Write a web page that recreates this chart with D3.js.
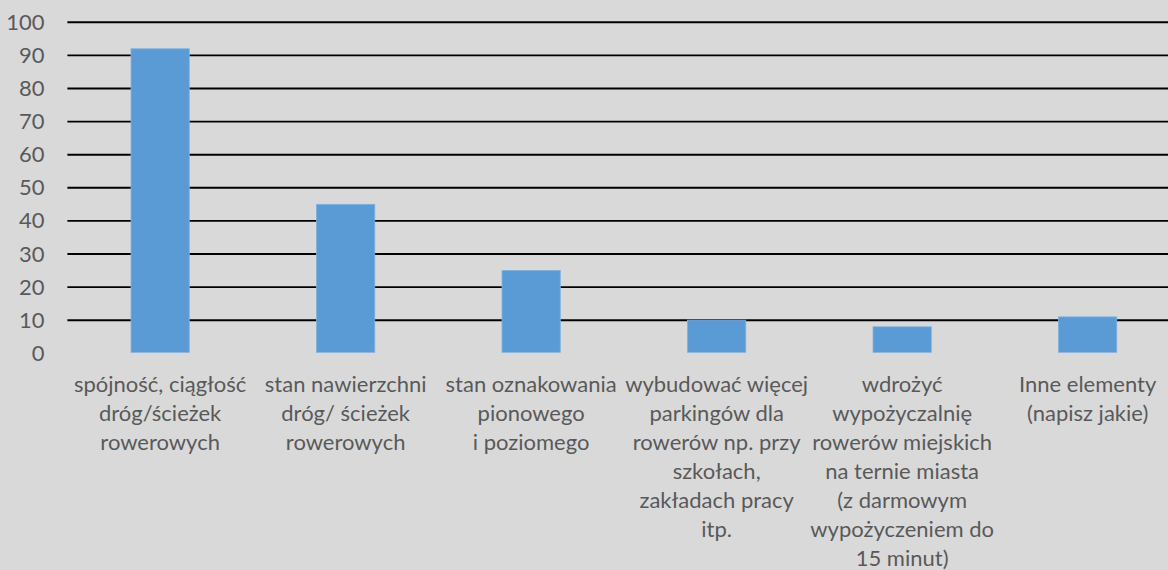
<!DOCTYPE html>
<html>
<head>
<meta charset="utf-8">
<script src="https://cdn.jsdelivr.net/npm/d3@7"></script>
<style>
  html, body { margin: 0; padding: 0; background: #d9d9d9; }
  svg { display: block; }
  text { font-family: Lato, "Open Sans", sans-serif; fill: #595959; }
</style>
</head>
<body>
<svg id="chart" width="1168" height="570"></svg>
<script>
const categories = [
  "spójność, ciągłość\ndróg/ścieżek\nrowerowych",
  "stan nawierzchni\ndróg/ ścieżek\nrowerowych",
  "stan oznakowania\npionowego\ni poziomego",
  "wybudować więcej\nparkingów dla\nrowerów np. przy\nszkołach,\nzakładach pracy\nitp.",
  "wdrożyć\nwypożyczalnię\nrowerów miejskich\nna ternie miasta\n(z darmowym\nwypożyczeniem do\n15 minut)",
  "Inne elementy\n(napisz jakie)"
];
const values = [92, 45, 25, 10, 8, 11];
const yTicks = [0, 10, 20, 30, 40, 50, 60, 70, 80, 90, 100];

const svg = d3.select("#chart");
const W = 1168, H = 570;
svg.append("rect").attr("width", W).attr("height", H).attr("fill", "#d9d9d9");

const plotLeft = 67.4, plotRight = 1180.4;
const y = d3.scaleLinear().domain([0, 100]).range([353.3, 22.3]);
const pad = 0.686;
const x = d3.scaleBand().domain(categories).range([plotLeft, plotRight])
  .paddingInner(pad).paddingOuter(pad / 2);

// gridlines
svg.append("g").selectAll("line").data(yTicks).join("line")
  .attr("x1", plotLeft).attr("x2", plotRight)
  .attr("y1", d => y(d)).attr("y2", d => y(d))
  .attr("stroke", d => d === 0 ? "none" : "#000")
  .attr("stroke-width", 1.9);

// y axis labels
const yAxis = d3.axisLeft(y).tickValues(yTicks).tickSize(0).tickPadding(0);
const gy = svg.append("g").attr("transform", `translate(${44.5},0)`).call(yAxis);
gy.select(".domain").remove();
gy.selectAll("text").attr("font-size", 22).attr("fill", "#595959")
  .style("font-family", "Lato, 'Open Sans', sans-serif");

// bars
svg.append("g").selectAll("rect").data(values).join("rect")
  .attr("x", (d, i) => x(categories[i]))
  .attr("width", x.bandwidth())
  .attr("y", d => y(d))
  .attr("height", d => y(0) - y(d) - 1)
  .attr("fill", "#5b9bd5")
  .attr("stroke", "#7fb0df")
  .attr("stroke-width", 0.8);

// x labels
const gx = svg.append("g");
categories.forEach(c => {
  const lines = c.split("\n");
  const t = gx.append("text")
    .attr("text-anchor", "middle")
    .attr("font-size", 22)
    .attr("x", x(c) + x.bandwidth() / 2)
    .attr("y", 391.5);
  lines.forEach((l, j) => {
    t.append("tspan").attr("x", x(c) + x.bandwidth() / 2)
      .attr("dy", j === 0 ? 0 : 29).text(l);
  });
});
</script>
</body>
</html>
